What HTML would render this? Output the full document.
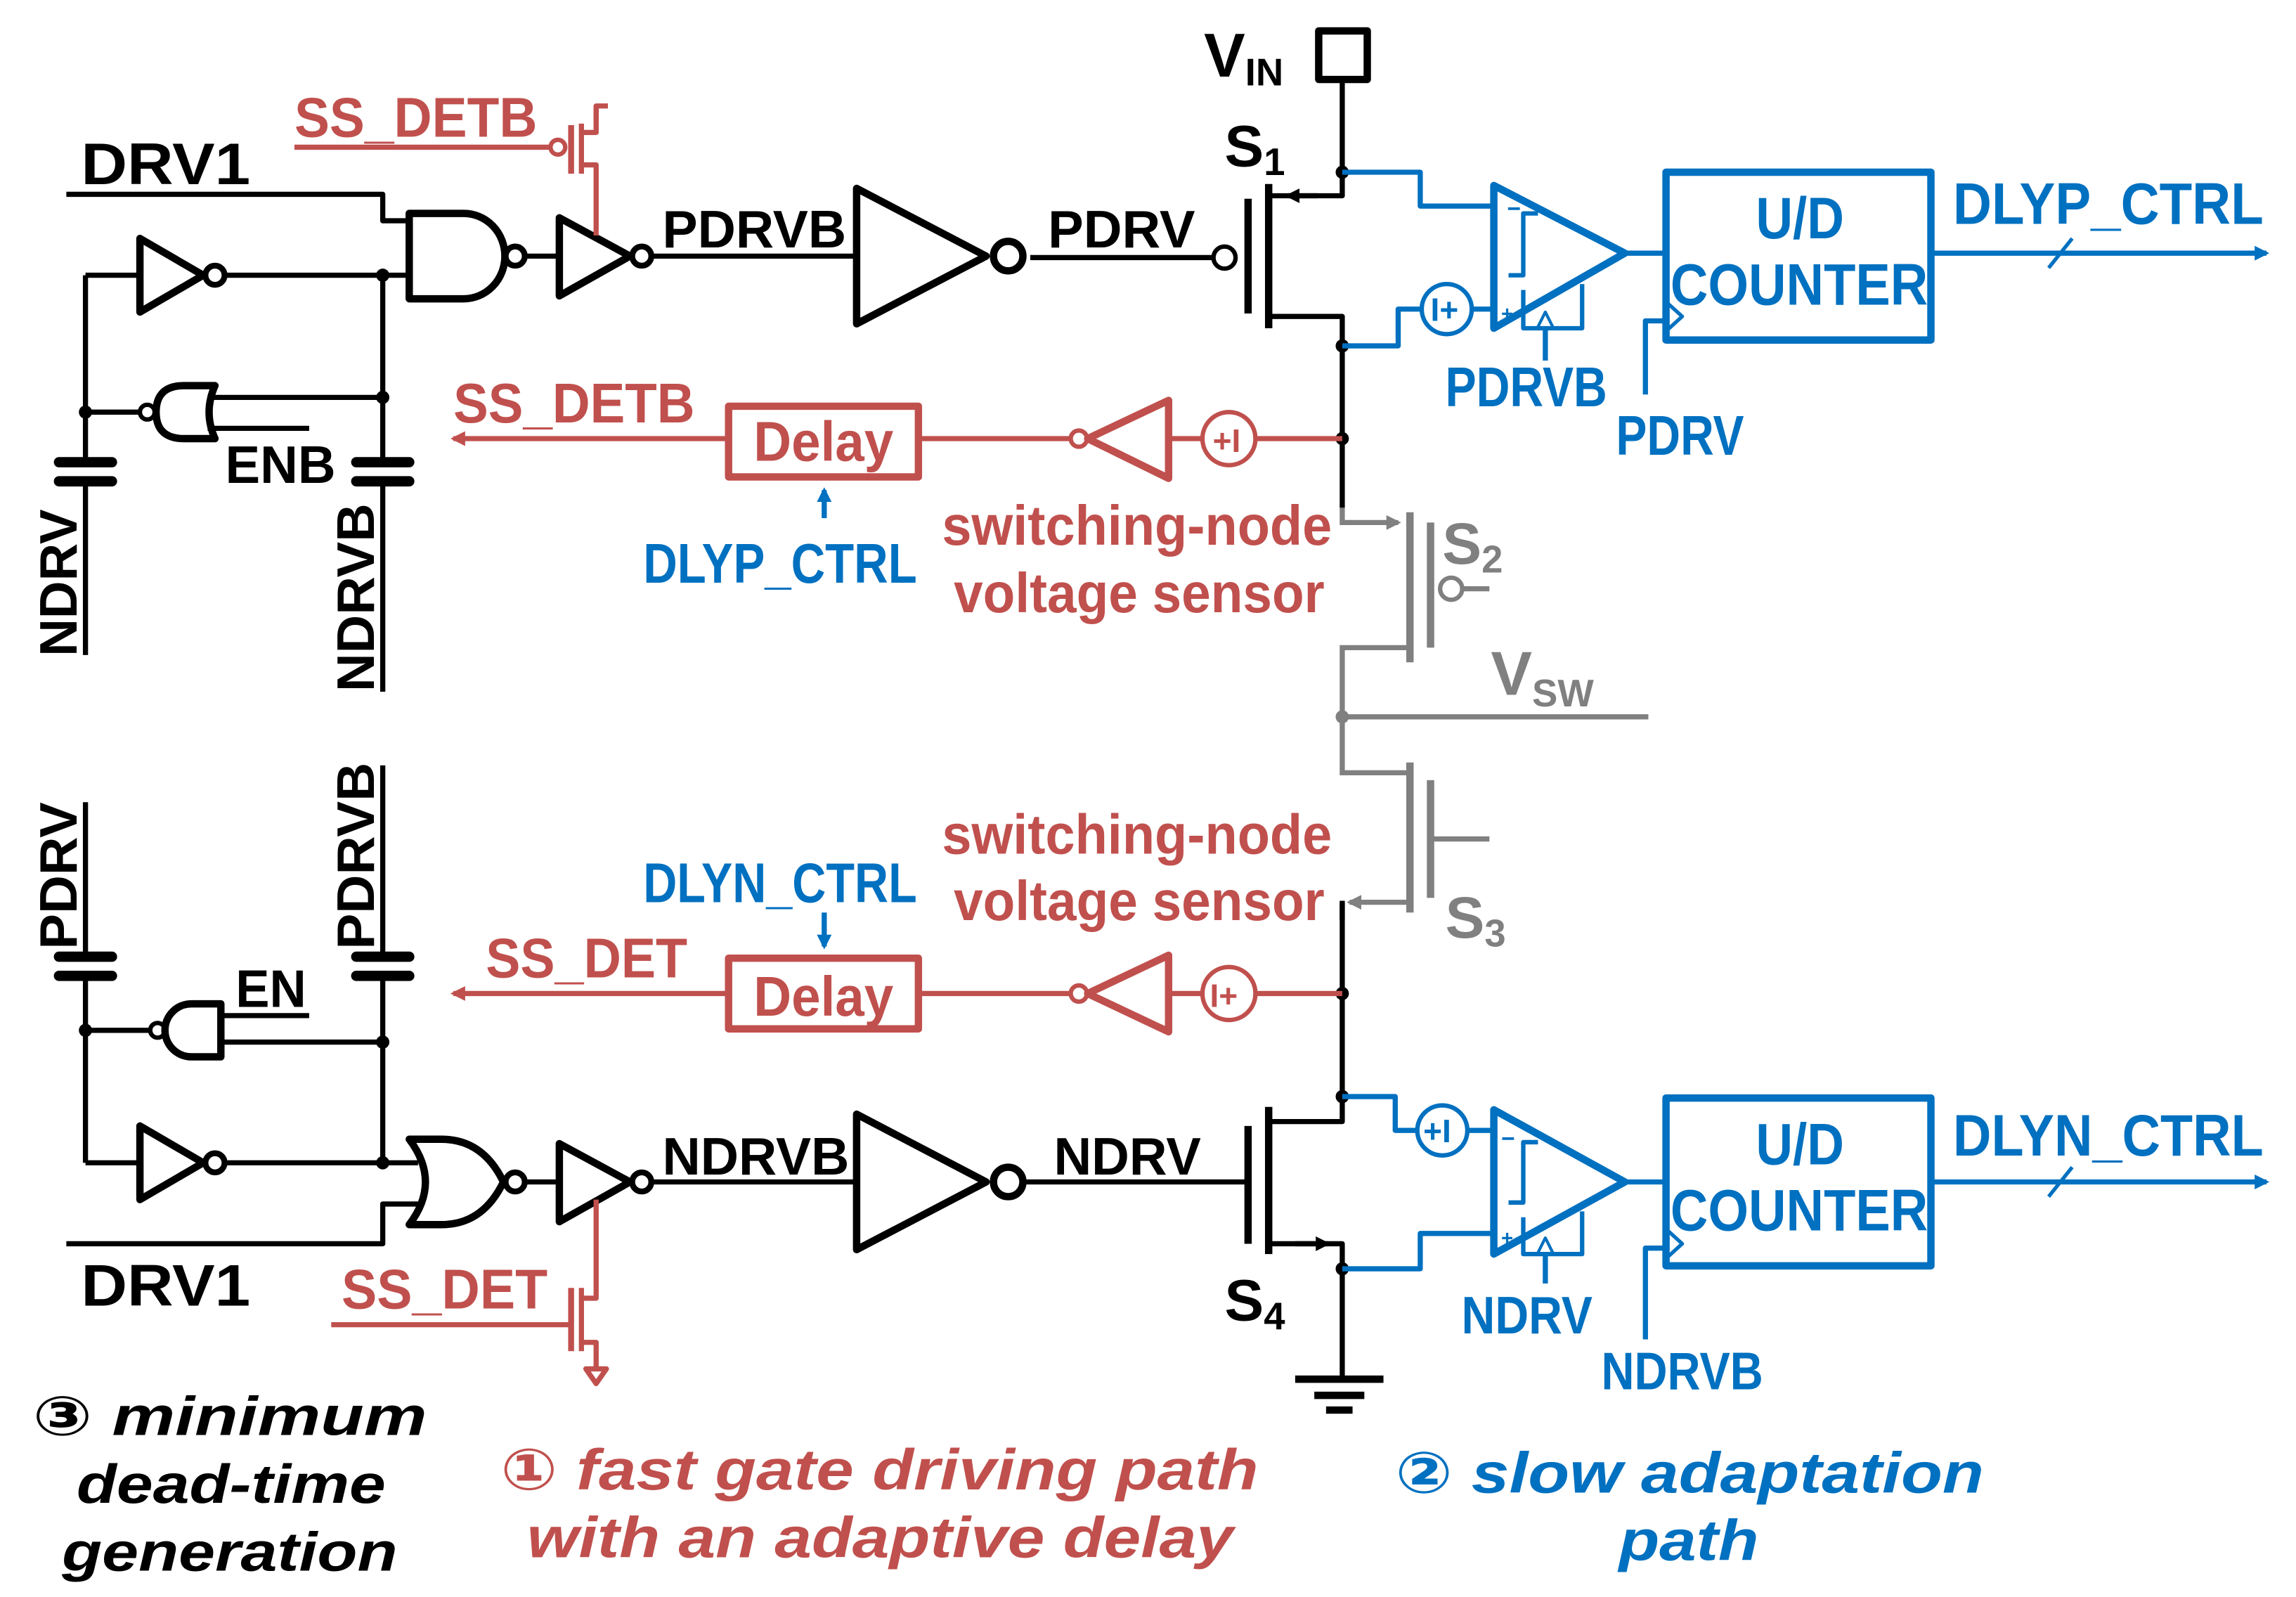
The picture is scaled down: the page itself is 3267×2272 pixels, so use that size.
<!DOCTYPE html>
<html><head><meta charset="utf-8"><style>
html,body{margin:0;padding:0;background:#fff;}
svg{display:block;}
text{font-family:"Liberation Sans Narrow","Liberation Sans",sans-serif;font-weight:bold;}
.it{font-family:"Liberation Sans","DejaVu Sans",sans-serif;font-style:italic;font-weight:bold;}
</style></head><body>
<svg width="3267" height="2272" viewBox="0 0 1560 1085" xmlns="http://www.w3.org/2000/svg">
<defs>
<marker id="ar" markerWidth="10" markerHeight="10" refX="8" refY="5" orient="auto" markerUnits="userSpaceOnUse"><path d="M0,0 L10,5 L0,10 Z" fill="#c0504d"/></marker>
<marker id="ab" markerWidth="10" markerHeight="10" refX="8" refY="5" orient="auto" markerUnits="userSpaceOnUse"><path d="M0,0 L10,5 L0,10 Z" fill="#0070c0"/></marker>
<marker id="ag" markerWidth="10" markerHeight="10" refX="8" refY="5" orient="auto" markerUnits="userSpaceOnUse"><path d="M0,0 L10,5 L0,10 Z" fill="#808080"/></marker>
<marker id="ak" markerWidth="10" markerHeight="10" refX="8" refY="5" orient="auto" markerUnits="userSpaceOnUse"><path d="M0,0 L10,5 L0,10 Z" fill="#000"/></marker>
</defs>

<!-- ================= BLACK TOP ================= -->
<g stroke="#000" stroke-width="3.5" fill="none" stroke-linejoin="round">
<rect x="896" y="21" width="33" height="33" stroke-width="5"/>
<path d="M912 54 V133 H862"/>
<path d="M862 215 H912 V345"/>
<path d="M862 125 V223" stroke-width="5"/>
<path d="M848 135 V213" stroke-width="5"/>
<path d="M700 175 H824"/>
<circle cx="832" cy="175" r="7.5" stroke-width="3"/>
<path d="M895 133 H875" marker-end="url(#ak)"/>
<path d="M45 132 H260 V150 H278"/>
<path d="M278 145 V203 H315 A28 29 0 0 0 315 145 Z" stroke-width="5"/>
<circle cx="350" cy="174" r="6.5" stroke-width="4"/>
<path d="M357 174 H380"/>
<path d="M380 148 V201 L428 174 Z" stroke-width="5"/>
<circle cx="436" cy="174" r="6.5" stroke-width="4"/>
<path d="M443 174 H580"/>
<path d="M582 128 V220 L670 174 Z" stroke-width="5"/>
<circle cx="685" cy="174" r="10" stroke-width="5"/>
<path d="M58 187 H95"/>
<path d="M95 162 V212 L138 187 Z" stroke-width="5"/>
<circle cx="146" cy="187" r="6.5" stroke-width="4"/>
<path d="M153 187 H278"/>
<path d="M58 187 V316"/>
<path d="M260 187 V316"/>
<path d="M95 280 H58" />
<circle cx="100" cy="280" r="5" stroke-width="3"/>
<path d="M146 262 H125 Q106 262 106 280 Q106 298 125 298 H146 Q138 280 146 262 Z" stroke-width="5"/>
<path d="M141 270 H260"/>
<path d="M141 291 H210"/>
<path d="M40 314 H76 M40 327 H76 M242 314 H278 M242 327 H278" stroke-width="7" stroke-linecap="round"/>
<path d="M58 327 V445 M260 327 V470"/>
</g>
<g fill="#000">
<circle cx="912" cy="117" r="4.5"/><circle cx="912" cy="235" r="4.5"/><circle cx="912" cy="298" r="4.5"/>
<circle cx="260" cy="187" r="4.5"/><circle cx="260" cy="270" r="4.5"/><circle cx="58" cy="280" r="4.5"/>
</g>

<!-- ================= BLACK BOTTOM ================= -->
<g stroke="#000" stroke-width="3.5" fill="none" stroke-linejoin="round">
<path d="M912 612 V762 H862"/>
<path d="M862 845 H912 V935"/>
<path d="M880 845 H902" marker-end="url(#ak)"/>
<path d="M862 752 V852" stroke-width="5"/>
<path d="M848 765 V845" stroke-width="5"/>
<path d="M695 803 H848"/>
<path d="M880 937 H940" stroke-width="5"/>
<path d="M893 948 H927" stroke-width="5"/>
<path d="M901 958 H919" stroke-width="5"/>
<path d="M582 757 V849 L670 803 Z" stroke-width="5"/>
<circle cx="685" cy="803" r="10" stroke-width="5"/>
<path d="M443 803 H580"/>
<path d="M380 777 V830 L428 803 Z" stroke-width="5"/>
<circle cx="436" cy="803" r="6.5" stroke-width="4"/>
<path d="M357 803 H380"/>
<path d="M278 774 Q300 803 278 832 H300 Q328 832 342 803 Q328 774 300 774 Z" stroke-width="5"/>
<circle cx="350" cy="803" r="6.5" stroke-width="4"/>
<path d="M153 790 H284"/>
<path d="M45 845 H260 V818 H284"/>
<path d="M58 790 H95"/>
<path d="M95 765 V815 L138 790 Z" stroke-width="5"/>
<circle cx="146" cy="790" r="6.5" stroke-width="4"/>
<path d="M58 663 V790"/>
<path d="M260 663 V790"/>
<path d="M58 700 H102"/>
<circle cx="107" cy="700" r="5" stroke-width="3"/>
<path d="M150 682 H130 A18 18 0 0 0 130 718 H150 Z" stroke-width="5"/>
<path d="M150 708 H260"/>
<path d="M150 690 H210"/>
<path d="M40 650 H76 M40 663 H76 M242 650 H278 M242 663 H278" stroke-width="7" stroke-linecap="round"/>
<path d="M58 545 V650 M260 520 V650"/>
</g>
<g fill="#000">
<circle cx="912" cy="675" r="4.5"/><circle cx="912" cy="745" r="4.5"/><circle cx="912" cy="862" r="4.5"/>
<circle cx="260" cy="790" r="4.5"/><circle cx="260" cy="708" r="4.5"/><circle cx="58" cy="700" r="4.5"/>
</g>

<g fill="#000">
<text x="818" y="52" font-size="42">V<tspan font-size="26" dy="6">IN</tspan></text>
<text x="832" y="113" font-size="40">S<tspan font-size="26" dy="6">1</tspan></text>
<text x="832" y="897" font-size="40">S<tspan font-size="26" dy="6">4</tspan></text>
<text x="55" y="125" font-size="40" textLength="115" lengthAdjust="spacingAndGlyphs">DRV1</text>
<text x="55" y="887" font-size="40" textLength="115" lengthAdjust="spacingAndGlyphs">DRV1</text>
<text x="450" y="168" font-size="36" textLength="125" lengthAdjust="spacingAndGlyphs">PDRVB</text>
<text x="712" y="168" font-size="36" textLength="100" lengthAdjust="spacingAndGlyphs">PDRV</text>
<text x="450" y="798" font-size="36" textLength="127" lengthAdjust="spacingAndGlyphs">NDRVB</text>
<text x="716" y="798" font-size="36" textLength="100" lengthAdjust="spacingAndGlyphs">NDRV</text>
<text x="153" y="328" font-size="36" textLength="75" lengthAdjust="spacingAndGlyphs">ENB</text>
<text x="160" y="684" font-size="36" textLength="48" lengthAdjust="spacingAndGlyphs">EN</text>
<text font-size="36" transform="translate(52,446) rotate(-90)" textLength="100" lengthAdjust="spacingAndGlyphs">NDRV</text>
<text font-size="36" transform="translate(254,470) rotate(-90)" textLength="128" lengthAdjust="spacingAndGlyphs">NDRVB</text>
<text font-size="36" transform="translate(52,645) rotate(-90)" textLength="100" lengthAdjust="spacingAndGlyphs">PDRV</text>
<text font-size="36" transform="translate(254,645) rotate(-90)" textLength="127" lengthAdjust="spacingAndGlyphs">PDRVB</text>
<text class="it" x="22" y="975" font-size="37" textLength="268" lengthAdjust="spacingAndGlyphs">③ minimum</text>
<text class="it" x="52" y="1021" font-size="37" textLength="210" lengthAdjust="spacingAndGlyphs">dead-time</text>
<text class="it" x="42" y="1067" font-size="37" textLength="228" lengthAdjust="spacingAndGlyphs">generation</text>
</g>

<!-- ================= RED ================= -->
<g stroke="#c0504d" stroke-width="3.5" fill="none" stroke-linejoin="round">
<path d="M200 100 H374"/>
<circle cx="379" cy="100" r="5" stroke-width="3"/>
<path d="M388 85 V118" stroke-width="4"/>
<path d="M395 84 V118 M395 90 H405 V72 H413 M395 112 H405 V160"/>
<path d="M405 72 V82"/>
<path d="M495 298 H308" marker-end="url(#ar)"/>
<rect x="495" y="276" width="129" height="48" stroke-width="5"/>
<path d="M624 298 H727"/>
<circle cx="733" cy="298" r="5.5" stroke-width="3"/>
<path d="M739 298 L794 272 V325 Z" stroke-width="5"/>
<path d="M794 298 H817 M853 298 H912"/>
<circle cx="835" cy="298" r="18" stroke-width="3"/>
<path d="M495 675 H308" marker-end="url(#ar)"/>
<rect x="495" y="651" width="129" height="48" stroke-width="5"/>
<path d="M624 675 H727"/>
<circle cx="733" cy="675" r="5.5" stroke-width="3"/>
<path d="M739 675 L794 649 V701 Z" stroke-width="5"/>
<path d="M794 675 H817 M853 675 H912"/>
<circle cx="835" cy="675" r="18" stroke-width="3"/>
<path d="M405 815 V882 H395 M395 875 V918 M395 912 H405 V930"/>
<path d="M388 875 V918" stroke-width="4"/>
<path d="M225 900 H388"/>
<path d="M398 930 H412 L405 940 Z"/>
</g>
<g fill="#c0504d">
<text x="824" y="307" font-size="22">+I</text>
<text x="822" y="684" font-size="22">I+</text>
<text x="200" y="93" font-size="38" textLength="165" lengthAdjust="spacingAndGlyphs">SS_DETB</text>
<text x="308" y="287" font-size="38" textLength="164" lengthAdjust="spacingAndGlyphs">SS_DETB</text>
<text x="330" y="664" font-size="38" textLength="137" lengthAdjust="spacingAndGlyphs">SS_DET</text>
<text x="232" y="889" font-size="38" textLength="140" lengthAdjust="spacingAndGlyphs">SS_DET</text>
<text x="512" y="313" font-size="38" textLength="95" lengthAdjust="spacingAndGlyphs">Delay</text>
<text x="512" y="690" font-size="38" textLength="95" lengthAdjust="spacingAndGlyphs">Delay</text>
<text x="640" y="370" font-size="38" textLength="265" lengthAdjust="spacingAndGlyphs">switching-node</text>
<text x="648" y="416" font-size="38" textLength="252" lengthAdjust="spacingAndGlyphs">voltage sensor</text>
<text x="640" y="580" font-size="38" textLength="265" lengthAdjust="spacingAndGlyphs">switching-node</text>
<text x="648" y="625" font-size="38" textLength="252" lengthAdjust="spacingAndGlyphs">voltage sensor</text>
<text class="it" x="340" y="1012" font-size="39" textLength="515" lengthAdjust="spacingAndGlyphs">① fast gate driving path</text>
<text class="it" x="358" y="1058" font-size="39" textLength="480" lengthAdjust="spacingAndGlyphs">with an adaptive delay</text>
</g>

<!-- ================= GRAY ================= -->
<g stroke="#808080" stroke-width="3.5" fill="none">
<path d="M912 345 V355 H950" marker-end="url(#ag)"/>
<path d="M958 348 V450" stroke-width="5"/>
<path d="M972 355 V440" stroke-width="5"/>
<circle cx="986" cy="400" r="7.5" stroke-width="3"/>
<path d="M994 400 H1012"/>
<path d="M958 440 H912 V525 H958"/>
<path d="M912 487 H1120"/>
<path d="M958 518 V620" stroke-width="5"/>
<path d="M972 530 V610" stroke-width="5"/>
<path d="M972 570 H1012"/>
<path d="M958 613 H917" marker-end="url(#ag)"/>
<path d="M912 613 V625" stroke="#000"/>
</g>
<circle cx="912" cy="487" r="4.5" fill="#808080"/>
<g fill="#808080">
<text x="980" y="383" font-size="40">S<tspan font-size="26" dy="6">2</tspan></text>
<text x="982" y="637" font-size="40">S<tspan font-size="26" dy="6">3</tspan></text>
<text x="1013" y="472" font-size="42">V<tspan font-size="26" dy="8">SW</tspan></text>
</g>

<!-- ================= BLUE ================= -->
<g stroke="#0070c0" stroke-width="3.5" fill="none" stroke-linejoin="round">
<path d="M912 117 H965 V140 H1015"/>
<path d="M912 235 H950 V210 H966 M1000 210 H1015"/>
<ellipse cx="983" cy="210" rx="17" ry="17" stroke-width="3"/>
<path d="M1015 126 V223 L1104 172 Z" stroke-width="5"/>
<path d="M1035 197 V223 H1075 V193" stroke-width="3"/>
<path d="M1045 222 L1050 212 L1055 222" stroke-width="2"/>
<path d="M1045 145 H1035 V187 H1025" stroke-width="3"/>
<path d="M1104 172 H1132"/>
<rect x="1132" y="117" width="180" height="114" stroke-width="5"/>
<path d="M1132 205 L1143 215 L1132 225" stroke-width="2.5"/>
<path d="M1050 223 V245"/>
<path d="M1118 268 V218 H1132"/>
<path d="M1313 172 H1540" marker-end="url(#ab)"/>
<path d="M1392 182 L1408 162" stroke-width="2.5"/>
<path d="M560 352 V333" marker-end="url(#ab)"/>
<path d="M560 620 V643" marker-end="url(#ab)"/>
<path d="M912 745 H948 V768 H962 M997 768 H1015"/>
<ellipse cx="980" cy="768" rx="17" ry="17" stroke-width="3"/>
<path d="M912 862 H965 V838 H1015"/>
<path d="M1015 754 V852 L1104 803 Z" stroke-width="5"/>
<path d="M1035 827 V852 H1075 V823" stroke-width="3"/>
<path d="M1045 851 L1050 841 L1055 851" stroke-width="2"/>
<path d="M1045 776 H1035 V817 H1025" stroke-width="3"/>
<path d="M1104 803 H1132"/>
<rect x="1132" y="746" width="180" height="114" stroke-width="5"/>
<path d="M1132 835 L1143 845 L1132 855" stroke-width="2.5"/>
<path d="M1050 852 V872"/>
<path d="M1118 910 V848 H1132"/>
<path d="M1313 803 H1540" marker-end="url(#ab)"/>
<path d="M1392 813 L1408 793" stroke-width="2.5"/>
</g>
<g fill="#0070c0">
<text x="1024" y="147" font-size="16">−</text>
<text x="1020" y="218" font-size="14">+</text>
<text x="1020" y="779" font-size="16">−</text>
<text x="1020" y="846" font-size="14">+</text>
<text x="972" y="218" font-size="22">I+</text>
<text x="967" y="776" font-size="22">+I</text>
<text x="1193" y="162" font-size="40" textLength="60" lengthAdjust="spacingAndGlyphs">U/D</text>
<text x="1135" y="207" font-size="40" textLength="175" lengthAdjust="spacingAndGlyphs">COUNTER</text>
<text x="1193" y="791" font-size="40" textLength="60" lengthAdjust="spacingAndGlyphs">U/D</text>
<text x="1135" y="836" font-size="40" textLength="175" lengthAdjust="spacingAndGlyphs">COUNTER</text>
<text x="1327" y="152" font-size="40" textLength="211" lengthAdjust="spacingAndGlyphs">DLYP_CTRL</text>
<text x="1327" y="785" font-size="40" textLength="211" lengthAdjust="spacingAndGlyphs">DLYN_CTRL</text>
<text x="982" y="276" font-size="38" textLength="110" lengthAdjust="spacingAndGlyphs">PDRVB</text>
<text x="1098" y="309" font-size="38" textLength="87" lengthAdjust="spacingAndGlyphs">PDRV</text>
<text x="993" y="906" font-size="36" textLength="89" lengthAdjust="spacingAndGlyphs">NDRV</text>
<text x="1088" y="944" font-size="36" textLength="110" lengthAdjust="spacingAndGlyphs">NDRVB</text>
<text x="437" y="396" font-size="38" textLength="186" lengthAdjust="spacingAndGlyphs">DLYP_CTRL</text>
<text x="437" y="613" font-size="38" textLength="186" lengthAdjust="spacingAndGlyphs">DLYN_CTRL</text>
<text class="it" x="948" y="1014" font-size="39" textLength="400" lengthAdjust="spacingAndGlyphs">② slow adaptation</text>
<text class="it" x="1100" y="1060" font-size="39" textLength="95" lengthAdjust="spacingAndGlyphs">path</text>
</g>
</svg>
</body></html>
